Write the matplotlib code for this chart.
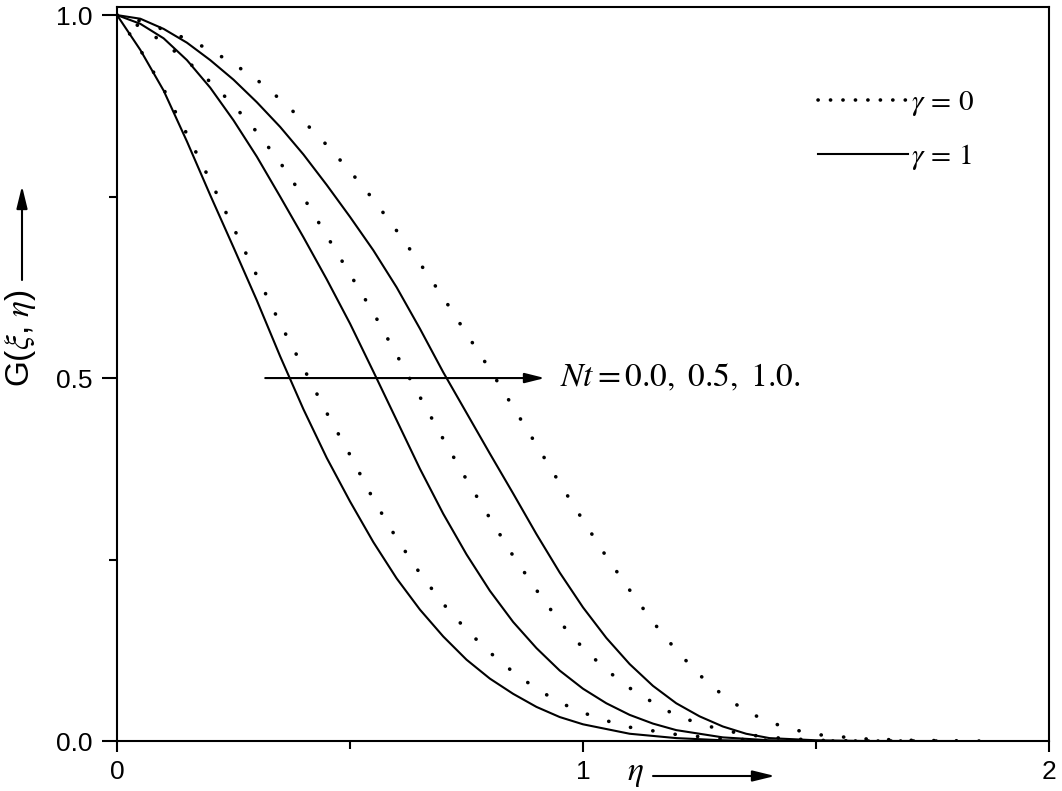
import matplotlib.pyplot as plt
from matplotlib.lines import Line2D

plt.rcParams['mathtext.fontset'] = 'stix'
plt.rcParams['font.family'] = ['Liberation Sans', 'DejaVu Sans']

# gamma = 1 (solid lines), Nt = 0.0, 0.5, 1.0
eta_s1 = [0, 0.05, 0.1, 0.15, 0.2, 0.25, 0.3, 0.35, 0.4, 0.45, 0.5, 0.55, 0.6, 0.65, 0.7, 0.75, 0.8, 0.85,
          0.9, 0.95, 1.0, 1.1, 1.2, 1.3, 1.4, 1.6]
g_s1 = [1.0, 0.952, 0.896, 0.826, 0.752, 0.68, 0.607, 0.53, 0.457, 0.39, 0.33, 0.274, 0.224, 0.181, 0.144,
        0.112, 0.086, 0.065, 0.047, 0.033, 0.023, 0.01, 0.004, 0.001, 0, 0]

eta_s2 = [0, 0.05, 0.1, 0.15, 0.2, 0.25, 0.3, 0.35, 0.4, 0.45, 0.5, 0.55, 0.6, 0.65, 0.7, 0.75, 0.8, 0.85,
          0.9, 0.95, 1.0, 1.05, 1.1, 1.15, 1.2, 1.3, 1.4, 1.5, 1.7]
g_s2 = [1.0, 0.988, 0.968, 0.938, 0.9, 0.855, 0.805, 0.75, 0.694, 0.636, 0.575, 0.509, 0.442, 0.375, 0.313,
        0.257, 0.207, 0.164, 0.128, 0.097, 0.072, 0.052, 0.036, 0.024, 0.015, 0.005, 0.001, 0, 0]

eta_s3 = [0, 0.05, 0.1, 0.15, 0.2, 0.25, 0.3, 0.35, 0.4, 0.45, 0.5, 0.55, 0.6, 0.65, 0.7, 0.75, 0.8, 0.85,
          0.9, 0.95, 1.0, 1.05, 1.1, 1.15, 1.2, 1.25, 1.3, 1.35, 1.4, 1.5, 1.6, 1.8]
g_s3 = [1.0, 0.995, 0.981, 0.962, 0.938, 0.911, 0.88, 0.846, 0.808, 0.766, 0.722, 0.676, 0.625, 0.568, 0.508,
        0.452, 0.396, 0.341, 0.285, 0.232, 0.184, 0.142, 0.106, 0.076, 0.052, 0.034, 0.02, 0.01, 0.004, 0.001,
        0, 0]

# gamma = 0 (dotted lines), Nt = 0.0, 0.5, 1.0
eta_d1 = [0, 0.05, 0.1, 0.15, 0.2, 0.25, 0.3, 0.35, 0.4, 0.45, 0.5, 0.55, 0.6, 0.65, 0.7, 0.75, 0.8, 0.85,
          0.9, 0.95, 1.0, 1.05, 1.1, 1.2, 1.3, 1.4, 1.5, 1.7]
g_d1 = [1.0, 0.952, 0.898, 0.836, 0.772, 0.707, 0.641, 0.575, 0.514, 0.452, 0.394, 0.333, 0.279, 0.231, 0.189,
        0.153, 0.122, 0.095, 0.072, 0.053, 0.039, 0.028, 0.019, 0.009, 0.003, 0.001, 0, 0]

eta_d2 = [0, 0.05, 0.1, 0.15, 0.2, 0.25, 0.3, 0.35, 0.4, 0.45, 0.5, 0.55, 0.6, 0.65, 0.7, 0.75, 0.8, 0.85,
          0.9, 0.95, 1.0, 1.05, 1.1, 1.15, 1.2, 1.25, 1.3, 1.35, 1.4, 1.5, 1.6, 1.8]
g_d2 = [1.0, 0.984, 0.962, 0.937, 0.908, 0.876, 0.839, 0.797, 0.749, 0.696, 0.643, 0.59, 0.532, 0.474, 0.416,
        0.36, 0.307, 0.255, 0.208, 0.164, 0.128, 0.098, 0.073, 0.053, 0.035, 0.024, 0.015, 0.009, 0.005, 0.001,
        0, 0]

eta_d3 = [0, 0.05, 0.1, 0.15, 0.2, 0.25, 0.3, 0.35, 0.4, 0.45, 0.5, 0.55, 0.6, 0.65, 0.7, 0.75, 0.8, 0.85,
          0.9, 0.95, 1.0, 1.05, 1.1, 1.15, 1.2, 1.25, 1.3, 1.35, 1.4, 1.45, 1.5, 1.6, 1.7, 1.85]
g_d3 = [1.0, 0.992, 0.98, 0.967, 0.952, 0.933, 0.911, 0.884, 0.854, 0.821, 0.785, 0.746, 0.703, 0.658, 0.611,
        0.561, 0.512, 0.46, 0.408, 0.355, 0.304, 0.254, 0.208, 0.164, 0.125, 0.091, 0.063, 0.041, 0.026, 0.016,
        0.009, 0.003, 0.001, 0]

solid = [(eta_s1, g_s1), (eta_s2, g_s2), (eta_s3, g_s3)]
dotted = [(eta_d1, g_d1), (eta_d2, g_d2), (eta_d3, g_d3)]

fig = plt.figure(figsize=(10.62, 7.91), dpi=100)
ax = fig.add_axes([0.1102, 0.0632, 0.8776, 0.9278])

dot_ls = (0, (0.05, 6.2))
for eta, g in dotted:
    ax.plot(eta, g, color='black', lw=2.6, ls=dot_ls, dash_capstyle='round')
for eta, g in solid:
    ax.plot(eta, g, color='black', lw=1.5)

ax.set_xlim(0, 2)
ax.set_ylim(0, 1.011)
ax.set_xticks([0, 1, 2])
ax.set_xticklabels(['0', '1', '2'])
ax.set_xticks([0.5, 1.5], minor=True)
ax.set_yticks([0, 0.5, 1.0])
ax.set_yticklabels(['0.0', '0.5', '1.0'])
ax.set_yticks([0.25, 0.75], minor=True)
for s in ax.spines.values():
    s.set_linewidth(1.5)
ax.tick_params(axis='x', which='major', direction='out', length=8, width=1.5, labelsize=19, pad=6)
ax.tick_params(axis='x', which='minor', direction='out', length=5.5, width=1.5)
ax.tick_params(axis='y', which='major', direction='out', length=11, width=1.5, labelsize=19, pad=7)
ax.tick_params(axis='y', which='minor', direction='out', length=5.5, width=1.5)

# Nt arrow and label
ax.annotate('', xy=(0.918, 0.5), xytext=(0.318, 0.5),
            arrowprops=dict(arrowstyle='-|>,head_length=0.6,head_width=0.15', color='black',
                            lw=1.5, mutation_scale=20, shrinkA=0, shrinkB=0))
ax.text(0.95, 0.5, r'$Nt = 0.0,\ 0.5,\ 1.0.$', va='center', ha='left', fontsize=24)

# legend
h_dot = Line2D([], [], color='black', lw=2.6, ls=(0, (0.05, 3.4)), dash_capstyle='round')
h_sol = Line2D([], [], color='black', lw=1.5)
ax.legend([h_dot, h_sol], [r'$\gamma\,=\,0$', r'$\gamma\,=\,1$'], loc='upper left',
          bbox_to_anchor=(0.752, 0.89), frameon=False, fontsize=21, handlelength=3.1,
          handletextpad=0.1, labelspacing=0.83, borderpad=0, borderaxespad=0)

# axis labels with arrows
fig.text(21 / 1062, 1 - 338 / 791, r'G($\xi$, $\eta$)', rotation=90, ha='center', va='center', fontsize=24)
ax.annotate('', xy=(22 / 1062, 1 - 186 / 791), xytext=(22 / 1062, 1 - 280 / 791),
            xycoords='figure fraction', textcoords='figure fraction',
            arrowprops=dict(arrowstyle='-|>,head_length=0.9,head_width=0.22', color='black',
                            lw=1.5, mutation_scale=15, shrinkA=0, shrinkB=0))
fig.text(635 / 1062, 1 - 780 / 791, r'$\eta$', ha='center', va='baseline', fontsize=24)
ax.annotate('', xy=(775 / 1062, 1 - 776 / 791), xytext=(653 / 1062, 1 - 776 / 791),
            xycoords='figure fraction', textcoords='figure fraction',
            arrowprops=dict(arrowstyle='-|>,head_length=0.9,head_width=0.22', color='black',
                            lw=1.5, mutation_scale=15, shrinkA=0, shrinkB=0))

fig.savefig('out.png', dpi=100)
